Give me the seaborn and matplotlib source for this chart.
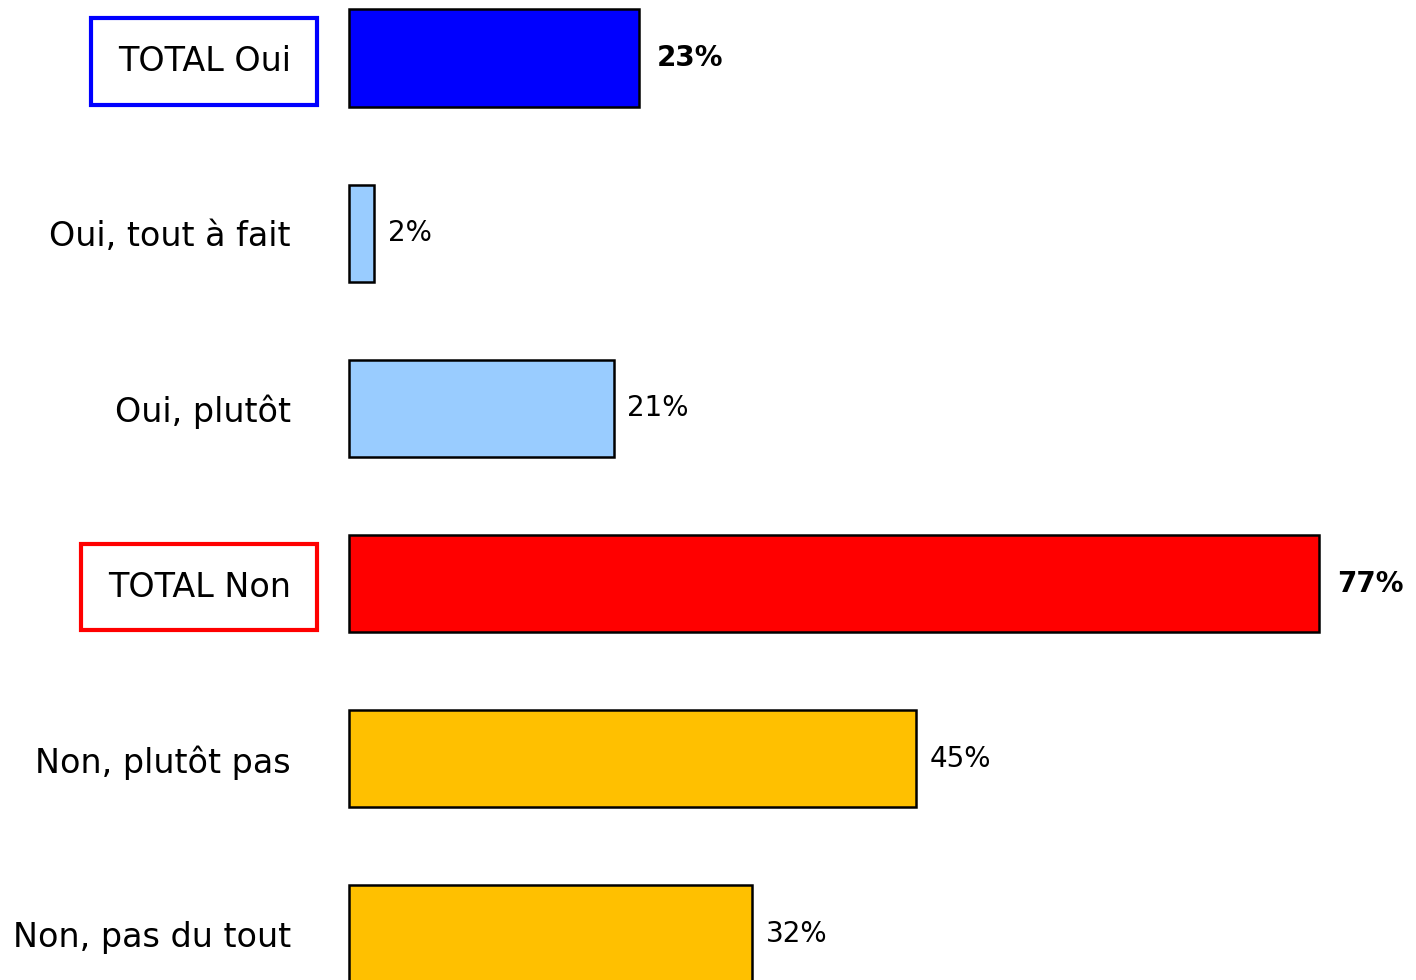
"""Horizontal bar chart of Oui/Non answers."""

import pandas as pd
import matplotlib
matplotlib.use('Agg')
import matplotlib.pyplot as plt
import seaborn as sns

categories = ['TOTAL Oui', 'Oui, tout à fait', 'Oui, plutôt',
              'TOTAL Non', 'Non, plutôt pas', 'Non, pas du tout']
values = [23, 2, 21, 77, 45, 32]
colors = ['#0000FF', '#99CCFF', '#99CCFF', '#FF0000', '#FFC000', '#FFC000']
totals = {'TOTAL Oui': '#0000FF', 'TOTAL Non': '#FF0000'}


def main():
    df = pd.DataFrame({'cat': categories, 'value': values})

    sns.set_style('white')
    plt.rcParams['font.family'] = ['DejaVu Sans']
    plt.rcParams['text.color'] = 'black'
    plt.rcParams['ytick.color'] = 'black'

    fig = plt.figure(figsize=(14.16, 9.8), dpi=100)
    ax = fig.add_axes([349 / 1416, 0, 1067 / 1416, 1])

    sns.barplot(data=df, x='value', y='cat', hue='cat', order=categories,
                palette=colors, saturation=1, legend=False, width=0.554,
                edgecolor='black', linewidth=1.8, ax=ax)
    for p in ax.patches:
        p.set_clip_on(False)

    ax.set_xlim(0, 1067 / 12.6)
    ax.set_ylim((980 - 58) / 175.2, -58 / 175.2)
    ax.set_xlabel('')
    ax.set_ylabel('')
    ax.set_xticks([])
    sns.despine(ax=ax, left=True, bottom=True)
    ax.tick_params(axis='y', length=0, pad=42, labelsize=24, labelcolor='black')

    for lab in ax.get_yticklabels():
        if lab.get_text() in totals:
            lab.set_bbox(dict(boxstyle='square,pad=0.8', facecolor='white',
                              edgecolor=totals[lab.get_text()], linewidth=3))

    for i, (cat, v) in enumerate(zip(categories, values)):
        bold = cat in totals
        ax.annotate(f'{v}%', xy=(v, i), xytext=(13 if bold else 10, 0),
                    textcoords='offset points', va='center', ha='left',
                    fontsize=20, color='black',
                    fontweight='bold' if bold else 'normal')

    fig.savefig('out.png', dpi=100)


if __name__ == '__main__':
    main()
